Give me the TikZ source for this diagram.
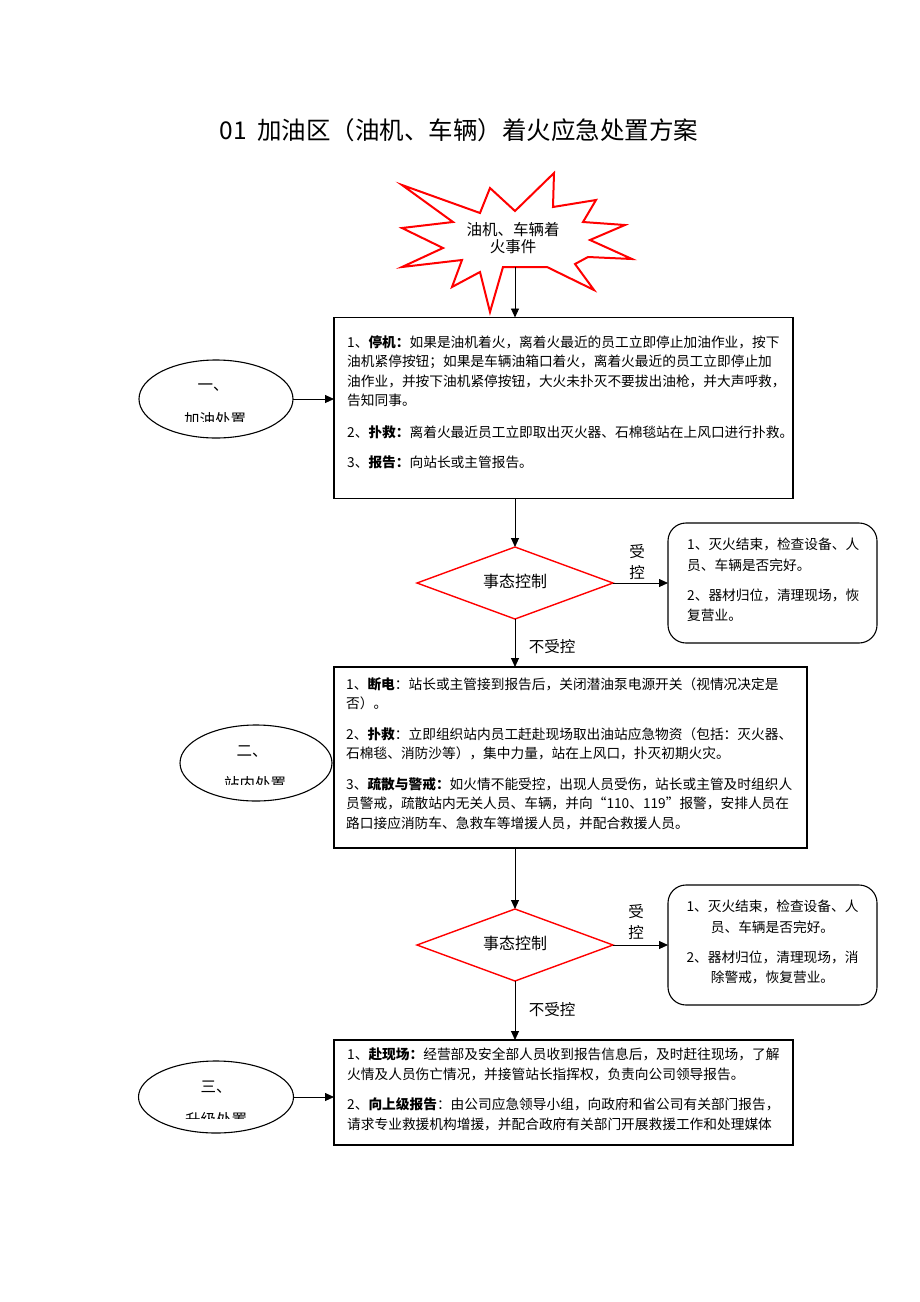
\documentclass[tikz,border=0pt]{standalone}
\usepackage{fontspec}
\setmainfont{Noto Sans CJK SC}
\usetikzlibrary{arrows.meta,shapes.geometric}
\begin{document}
\begin{tikzpicture}[x=1pt,y=-1pt,
  arr/.style={-{Triangle[length=9pt,width=8pt]},line width=0.9pt},
  bigbox/.style={draw,line width=1.3pt,rectangle,inner sep=0pt,outer sep=0pt},
  oval/.style={draw,line width=1.1pt,ellipse,inner sep=0pt,outer sep=0pt},
  decide/.style={draw=red,line width=1.4pt,diamond,aspect=2.7,inner sep=0pt,outer sep=0pt},
  roundbox/.style={draw,line width=1.1pt,rectangle,rounded corners=18pt,inner sep=0pt,outer sep=0pt},
  body/.style={inner sep=0pt,align=left,font=\fontsize{13.7}{19.5}\selectfont},
  lbl/.style={inner sep=0pt,font=\fontsize{15.5}{17}\selectfont}]
\useasboundingbox (0,0) rectangle (920,1302);
\fill[white] (0,0) rectangle (920,1302);

% title
\node[inner sep=0pt,font=\fontsize{24.5}{26}\selectfont] (title) at (459,130) {01\hspace{10pt}加油区（油机、车辆）着火应急处置方案};

% starburst
\draw[red,line width=2pt,line join=miter,fill=white]
  (402,185) -- (480,213) -- (490,188) -- (515,211) -- (554,173) -- (553,207)
  -- (596,200) -- (583,222) -- (625,225) -- (590,240) -- (632,259) -- (588,257)
  -- (575,264) -- (594,290) -- (547,267) -- (503,267) -- (490,312) -- (480,272)
  -- (452,287) -- (462,260) -- (402,267) -- (443,248) -- (402,228) -- (453,222) -- cycle;
\coordinate (sb) at (515,267);
\node[inner sep=0pt,align=center,font=\fontsize{15.5}{17.5}\selectfont] (sbt) at (513,238) {油机、车辆着\\火事件};

% boxes
\node[bigbox,minimum width=459pt,minimum height=181pt] (b1) at (563.5,408) {};
\node[bigbox,minimum width=473pt,minimum height=181pt] (b2) at (570.5,757.5) {};
\node[bigbox,minimum width=459pt,minimum height=105pt] (b3) at (563.5,1092.5) {};

\node[body,anchor=north west] (b1t) at (347,335) {1、\textbf{停机：}如果是油机着火，离着火最近的员工立即停止加油作业，按下\\
油机紧停按钮；如果是车辆油箱口着火，离着火最近的员工立即停止加\\
油作业，并按下油机紧停按钮，大火未扑灭不要拔出油枪，并大声呼救，\\
告知同事。\\[12pt]
2、\textbf{扑救：}离着火最近员工立即取出灭火器、石棉毯站在上风口进行扑救。\\[11pt]
3、\textbf{报告：}向站长或主管报告。};

\node[body,anchor=north west] (b2t) at (346,677) {1、\textbf{断电}：站长或主管接到报告后，关闭潜油泵电源开关（视情况决定是\\
否）。\\[11pt]
2、\textbf{扑救}：立即组织站内员工赶赴现场取出油站应急物资（包括：灭火器、\\
石棉毯、消防沙等），集中力量，站在上风口，扑灭初期火灾。\\[11pt]
3、\textbf{疏散与警戒：}如火情不能受控，出现人员受伤，站长或主管及时组织人\\
员警戒，疏散站内无关人员、车辆，并向“110、119”报警，安排人员在\\
路口接应消防车、急救车等增援人员，并配合救援人员。};

\node[body,anchor=north west] (b3t) at (347,1048) {1、\textbf{赴现场：}经营部及安全部人员收到报告信息后，及时赶往现场，了解\\
火情及人员伤亡情况，并接管站长指挥权，负责向公司领导报告。\\[11pt]
2、\textbf{向上级报告}：由公司应急领导小组，向政府和省公司有关部门报告，\\
请求专业救援机构增援，并配合政府有关部门开展救援工作和处理媒体};

% ellipses
\node[oval,minimum width=154pt,minimum height=78pt] (e1) at (216,399) {};
\node[oval,minimum width=152pt,minimum height=76pt] (e2) at (256,763) {};
\node[oval,minimum width=155pt,minimum height=72pt] (e3) at (216,1097) {};
\node[lbl] (e1a) at (213,388) {一、};
\node[lbl] (e2a) at (252,752) {二、};
\node[lbl] (e3a) at (216,1087) {三、};
\begin{scope}
  \clip (150,405) rectangle (290,421);
  \node[lbl] (e1b) at (215,420) {加油处置};
\end{scope}
\begin{scope}
  \clip (190,770) rectangle (320,784);
  \node[lbl] (e2b) at (255,784) {站内处置};
\end{scope}
\begin{scope}
  \clip (150,1105) rectangle (290,1118);
  \node[lbl] (e3b) at (216,1120) {升级处置};
\end{scope}

% decisions
\node[decide,minimum width=196pt,minimum height=72pt] (d1) at (515,583) {};
\node[decide,minimum width=196pt,minimum height=72pt] (d2) at (515,945) {};
\node[lbl,font=\fontsize{16}{18}\selectfont] (d1t) at (515,581) {事态控制};
\node[lbl,font=\fontsize{16}{18}\selectfont] (d2t) at (515,943) {事态控制};

% rounded boxes
\node[roundbox,minimum width=209pt,minimum height=120pt] (r1) at (772.5,583) {};
\node[roundbox,minimum width=209pt,minimum height=120pt] (r2) at (772.5,945) {};
\node[body,anchor=north west,font=\fontsize{13.7}{20.5}\selectfont] (r1t) at (687,538) {1、灭火结束，检查设备、人\\
员、车辆是否完好。\\[9.5pt]
2、器材归位，清理现场，恢\\
复营业。};
\node[body,anchor=north,align=center,font=\fontsize{13.7}{20.5}\selectfont] (r2t) at (772.5,900) {1、灭火结束，检查设备、人\\
员、车辆是否完好。\\[9.5pt]
2、器材归位，清理现场，消\\
除警戒，恢复营业。};

% labels
\node[lbl] (y1a) at (637,552) {受};
\node[lbl] (y1b) at (637,573) {控};
\node[lbl] (y2a) at (636,912) {受};
\node[lbl] (y2b) at (636,933) {控};
\node[lbl] (n1) at (552,647) {不受控};
\node[lbl] (n2) at (552,1010) {不受控};

% connectors
\draw[arr] (sb) -- (sb |- b1.north);
\draw[arr] (e1.east) -- (e1.east -| b1.west);
\draw[arr] (b1.south -| d1.north) -- (d1.north);
\draw[arr] (d1.east) -- (r1.west);
\draw[arr] (d1.south) -- (d1.south |- b2.north);
\draw[arr] (b2.south -| d2.north) -- (d2.north);
\draw[arr] (d2.east) -- (r2.west);
\draw[arr] (d2.south) -- (d2.south |- b3.north);
\draw[arr] (e3.east) -- (e3.east -| b3.west);
\end{tikzpicture}
\end{document}
